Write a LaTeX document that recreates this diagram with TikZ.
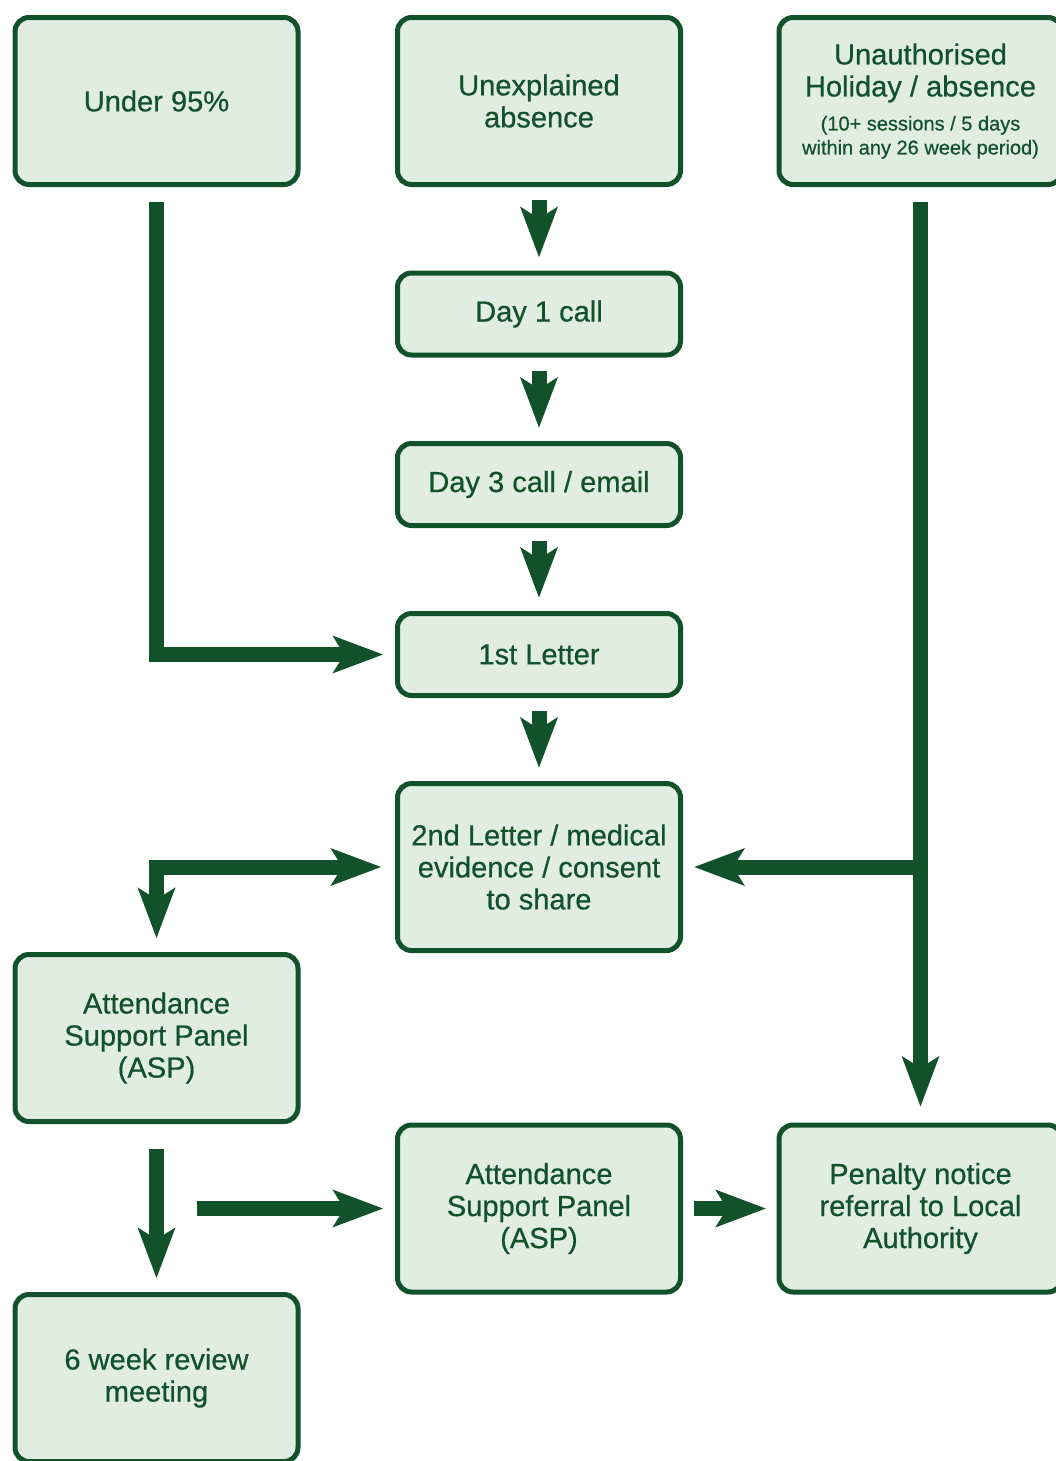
\documentclass[tikz,border=0pt]{standalone}
\usepackage{fontspec}
\setmainfont{Liberation Sans}
\newfontfamily\boxfont{Liberation Sans}[FakeBold=0.6]
\usetikzlibrary{arrows.meta}
\definecolor{dg}{RGB}{18,82,42}
\definecolor{lg}{RGB}{226,237,225}
\begin{document}
\begin{tikzpicture}[x=0.75pt,y=-0.75pt,
  box/.style={draw=dg, fill=lg, line width=3.75pt, rounded corners=10.5pt,
    minimum width=212.25pt, align=center, text=dg, inner sep=0pt,
    font=\boxfont\fontsize{21.8}{24}\selectfont},
  tall/.style={box, minimum height=125.25pt},
  short/.style={box, minimum height=61.5pt},
  bigtip/.tip={Stealth[length=38pt,width=28.5pt,inset=9pt,line width=0pt]},
  arr/.style={draw=dg, line width=11.25pt, line join=miter, -{bigtip}},
  darr/.style={draw=dg, line width=11.25pt, line join=miter, {bigtip}-{bigtip}},
  gap/.style={shorten <=#1, shorten >=#1},
  gap/.default=10pt
]
\useasboundingbox (0,0) rectangle (1056,1461);

% boxes
\node[tall] (u95) at (156.5,101) {Under 95\%};
\node[tall] (ua) at (539,101) {Unexplained\\absence};
\node[tall] (uh) at (920.5,101) {Unauthorised\\Holiday / absence\\[1.5pt]
  \fontsize{15}{18}\selectfont (10+ sessions / 5 days\\[-6pt]
  \fontsize{15}{18}\selectfont within any 26 week period)};
\node[short] (d1) at (539,314) {Day 1 call};
\node[short] (d3) at (539,484.5) {Day 3 call / email};
\node[short] (l1) at (539,654.5) {1st Letter};
\node[tall] (l2) at (539,867) {2nd Letter / medical\\evidence / consent\\to share};
\node[tall] (aspL) at (156.5,1038) {Attendance\\Support Panel\\(ASP)};
\node[tall] (aspM) at (539,1208.5) {Attendance\\Support Panel\\(ASP)};
\node[tall] (pen) at (920.5,1208.5) {Penalty notice\\referral to Local\\Authority};
\node[tall] (w6) at (156.5,1378) {6 week review\\meeting};

% connectors
\draw[arr, gap] (ua) -- (d1);
\draw[arr, gap] (d1) -- (d3);
\draw[arr, gap] (d3) -- (l1);
\draw[arr, gap] (l1) -- (l2);

\draw[arr, shorten <=11.5pt, shorten >=9pt] (u95.south) |- (l1.west);

\draw[darr, gap=10.5pt] (aspL.north) |- (l2.west);

\draw[arr, shorten <=11.5pt, shorten >=12pt] (uh.south) -- (pen.north);
\coordinate (j) at (uh.south |- l2.east);
\draw[arr, shorten >=8.5pt] (j) -- (l2.east);

\draw[arr, shorten <=19pt, shorten >=10.5pt] (aspL.south) -- (w6.north);
\coordinate (hs) at (197,1208.5);
\draw[arr, shorten >=9pt] (hs) -- (aspM.west);
\draw[arr, gap=8pt] (aspM.east) -- (pen.west);
\end{tikzpicture}
\end{document}
